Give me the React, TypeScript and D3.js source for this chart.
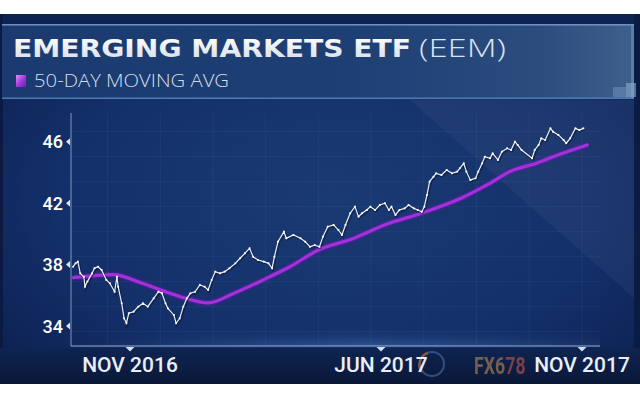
import React from "react";
import * as d3 from "d3";

const titleMain = "EMERGING MARKETS ETF";
const titleTicker = "(EEM)";
const legendLabel = "50-DAY MOVING AVG";
const watermark = "FX678";

const yTickValues = [34, 38, 42, 46];
const xTickDates = ["2016-11-01", "2017-06-01", "2017-11-01"];
const xTickLabels = ["NOV 2016", "JUN 2017", "NOV 2017"];

const priceDates = [
  "2016-09-14", "2016-09-16", "2016-09-18", "2016-09-20", "2016-09-23", "2016-09-24", "2016-09-26", "2016-09-30",
  "2016-10-02", "2016-10-05", "2016-10-08", "2016-10-12", "2016-10-15", "2016-10-19", "2016-10-21", "2016-10-22",
  "2016-10-25", "2016-10-27", "2016-10-29", "2016-10-31", "2016-11-04", "2016-11-08", "2016-11-12", "2016-11-16",
  "2016-11-21", "2016-11-25", "2016-11-28", "2016-12-01", "2016-12-03", "2016-12-08", "2016-12-10", "2016-12-13",
  "2016-12-16", "2016-12-19", "2016-12-22", "2016-12-26", "2016-12-30", "2017-01-03", "2017-01-06", "2017-01-09",
  "2017-01-12", "2017-01-16", "2017-01-20", "2017-01-24", "2017-01-29", "2017-02-02", "2017-02-06", "2017-02-10",
  "2017-02-13", "2017-02-17", "2017-02-22", "2017-02-26", "2017-03-01", "2017-03-03", "2017-03-06", "2017-03-11",
  "2017-03-13", "2017-03-19", "2017-03-25", "2017-03-29", "2017-04-02", "2017-04-06", "2017-04-10", "2017-04-13",
  "2017-04-17", "2017-04-22", "2017-04-26", "2017-04-29", "2017-05-02", "2017-05-06", "2017-05-10", "2017-05-13",
  "2017-05-16", "2017-05-20", "2017-05-23", "2017-05-27", "2017-05-31", "2017-06-04", "2017-06-07", "2017-06-09",
  "2017-06-12", "2017-06-15", "2017-06-19", "2017-06-22", "2017-06-26", "2017-06-29", "2017-07-02", "2017-07-04",
  "2017-07-06", "2017-07-08", "2017-07-11", "2017-07-13", "2017-07-17", "2017-07-21", "2017-07-25", "2017-07-29",
  "2017-07-31", "2017-08-03", "2017-08-05", "2017-08-08", "2017-08-12", "2017-08-14", "2017-08-17", "2017-08-19",
  "2017-08-23", "2017-08-25", "2017-08-29", "2017-09-01", "2017-09-05", "2017-09-08", "2017-09-11", "2017-09-13",
  "2017-09-16", "2017-09-24", "2017-09-26", "2017-09-29", "2017-10-01", "2017-10-04", "2017-10-08", "2017-10-10",
  "2017-10-14", "2017-10-18", "2017-10-20", "2017-10-23", "2017-10-27", "2017-10-30", "2017-11-02",
];
const priceValues = [
  37.86, 38.08, 38.19, 37.43, 37.21, 36.56, 36.89, 37.43,
  37.76, 37.86, 37.65, 37.0, 36.78, 36.23, 37.21, 36.56,
  35.48, 34.5, 34.18, 34.83, 34.93, 35.26, 35.48, 35.26,
  35.8, 36.23, 36.13, 35.48, 35.15, 34.72, 34.18, 34.5,
  35.26, 35.8, 36.13, 36.23, 36.67, 36.56, 36.35, 37.0,
  37.54, 37.43, 37.54, 37.76, 38.08, 38.41, 38.73, 39.06,
  38.51, 38.3, 38.19, 38.08, 37.76, 38.51, 39.49, 40.14,
  39.71, 39.93, 39.71, 39.49, 39.16, 39.27, 39.16, 39.82,
  40.47, 40.58, 40.25, 39.93, 40.58, 41.34, 41.77, 41.12,
  41.34, 41.55, 41.77, 41.55, 41.88, 41.99, 41.55, 41.77,
  41.23, 41.55, 41.66, 41.88, 41.66, 41.55, 41.44, 41.77,
  42.53, 43.4, 43.72, 43.94, 43.83, 44.16, 43.94, 44.05,
  44.27, 44.59, 44.05, 43.51, 43.62, 44.05, 44.59, 45.02,
  44.92, 45.24, 44.81, 45.35, 45.57, 45.46, 46.0, 45.79,
  45.46, 44.92, 45.46, 45.79, 46.22, 46.11, 46.87, 46.65,
  46.44, 46.11, 45.9, 46.22, 46.87, 46.76, 46.87,
];

const maDates = [
  "2016-09-14", "2016-10-18", "2016-11-09", "2016-12-02", "2016-12-19", "2017-01-06", "2017-01-27",
  "2017-02-22", "2017-03-16", "2017-04-10", "2017-05-08", "2017-06-05", "2017-07-03", "2017-08-03",
  "2017-08-21", "2017-09-07", "2017-09-28", "2017-10-15", "2017-11-05",
];
const maValues = [
  37.15, 37.34, 36.85, 36.2, 35.78, 35.5, 36.1,
  37.02, 37.86, 38.98, 39.68, 40.62, 41.38, 42.4,
  43.2, 44.05, 44.62, 45.18, 45.79,
];

const parse = d3.timeParse("%Y-%m-%d");

export default function App() {
  const W = 640;
  const H = 400;
  const plotLeft = 71;
  const plotRight = 600;
  const plotTop = 113;
  const plotBottom = 346;

  const x = d3
    .scaleTime()
    .domain(xTickDates.map((d) => parse(d) as Date))
    .range([130, 381, 582]);
  const y = d3.scaleLinear().domain([34, 46]).range([326, 141.7]);

  const price = priceDates.map((d, i) => ({ date: parse(d) as Date, value: priceValues[i] }));
  const ma = maDates.map((d, i) => ({ date: parse(d) as Date, value: maValues[i] }));

  const priceLine = d3
    .line<{ date: Date; value: number }>()
    .x((d) => x(d.date))
    .y((d) => y(d.value));
  const maLine = d3
    .line<{ date: Date; value: number }>()
    .x((d) => x(d.date))
    .y((d) => y(d.value))
    .curve(d3.curveMonotoneX);

  const gridX = d3.range(107.6, plotRight, 52.7);
  const gridY = d3.range(131.7, plotBottom, 25);

  return (
    <svg
      width={W}
      height={H}
      style={{ position: "absolute", left: 0, top: 0, display: "block", background: "#ffffff" }}
    >
      <defs>
        <radialGradient id="panelGrad" cx="0.52" cy="0.5" r="0.7">
          <stop offset="0" stopColor="#1a3a73" />
          <stop offset="0.6" stopColor="#14306a" />
          <stop offset="1" stopColor="#0c2050" />
        </radialGradient>
        <linearGradient id="titleGrad" x1="0" y1="0" x2="1" y2="0">
          <stop offset="0" stopColor="#1b3b70" />
          <stop offset="0.55" stopColor="#1d3f74" />
          <stop offset="0.85" stopColor="#2c4c7e" />
          <stop offset="1" stopColor="#3f5f8c" />
        </linearGradient>
        <linearGradient id="titleTextGrad" x1="0" y1="0" x2="0" y2="1">
          <stop offset="0" stopColor="#ffffff" />
          <stop offset="1" stopColor="#d5dce6" />
        </linearGradient>
        <linearGradient id="legendSq" x1="0" y1="0" x2="1" y2="1">
          <stop offset="0" stopColor="#e08cff" />
          <stop offset="0.5" stopColor="#a43ddc" />
          <stop offset="1" stopColor="#6a1ca6" />
        </linearGradient>
        <linearGradient id="wmGrad" x1="0" y1="0" x2="1" y2="0">
          <stop offset="0" stopColor="#9a7452" />
          <stop offset="0.6" stopColor="#9a7452" />
          <stop offset="0.6" stopColor="#a34a48" />
          <stop offset="1" stopColor="#a34a48" />
        </linearGradient>
        <linearGradient id="axisGlowH" x1="0" y1="0" x2="1" y2="0">
          <stop offset="0" stopColor="#5f9ad8" stopOpacity="0" />
          <stop offset="0.55" stopColor="#6aa6e0" stopOpacity="1" />
          <stop offset="1" stopColor="#6aa6e0" stopOpacity="0.3" />
        </linearGradient>
        <linearGradient id="axisGlowV" x1="0" y1="0" x2="0" y2="1">
          <stop offset="0" stopColor="#000" stopOpacity="0" />
          <stop offset="1" stopColor="#fff" stopOpacity="1" />
        </linearGradient>
        <mask id="glowMask">
          <rect x={71} y={326} width={529} height={20} fill="url(#axisGlowV)" />
        </mask>
        <linearGradient id="bottomBand" x1="0" y1="0" x2="0" y2="1">
          <stop offset="0" stopColor="#0f2452" />
          <stop offset="1" stopColor="#0a1838" />
        </linearGradient>
        <filter id="glow" x="-10%" y="-10%" width="120%" height="120%">
          <feGaussianBlur stdDeviation="1.2" />
        </filter>
      </defs>

      {/* panel */}
      <rect x={0} y={14} width={W} height={370} fill="url(#panelGrad)" />
      <rect x={0} y={14} width={W} height={11} fill="#0e2352" />
      {/* diagonal light band */}
      <polygon points="410,100 636,100 636,300" fill="#ffffff" opacity={0.04} />
      <rect x={0} y={14} width={3} height={370} fill="#0a1a40" />
      <rect x={634} y={14} width={6} height={370} fill="#0b1c44" />

      {/* bottom band */}
      <rect x={0} y={348} width={W} height={36} fill="url(#bottomBand)" />
      <rect x={71} y={326} width={529} height={20} fill="url(#axisGlowH)" mask="url(#glowMask)" opacity={0.3} />

      {/* title box */}
      <rect x={2} y={25} width={632} height={73} fill="url(#titleGrad)" />
      <rect x={2} y={24} width={632} height={1.5} fill="#7ea6d2" opacity={0.85} />
      <rect x={2} y={97.5} width={632} height={1.5} fill="#5d8cc0" opacity={0.8} />
      <rect x={631} y={25} width={3} height={73} fill="#7b9cc4" opacity={0.5} />
      <rect x={613} y={87} width={13} height={10} fill="#6f8fb8" opacity={0.55} />
      <rect x={626} y={83} width={10} height={14} fill="#8eabd0" opacity={0.6} />

      <text
        x={13}
        y={57}
        fontFamily="'DejaVu Sans', sans-serif"
        fontWeight={700}
        fontSize={24}
        fill="url(#titleTextGrad)"
        textLength={398}
        lengthAdjust="spacingAndGlyphs"
      >
        {titleMain}
      </text>
      <text
        x={419}
        y={57}
        fontFamily="'Open Sans', sans-serif"
        fontWeight={300}
        fontSize={25}
        fill="#dbe3ee"
        textLength={87}
        lengthAdjust="spacingAndGlyphs"
      >
        {titleTicker}
      </text>
      <rect x={16} y={75} width={10} height={12} fill="url(#legendSq)" />
      <text
        x={34}
        y={87}
        fontFamily="'Open Sans', sans-serif"
        fontWeight={300}
        fontSize={18}
        fill="#d6dfeb"
        textLength={195}
        lengthAdjust="spacingAndGlyphs"
      >
        {legendLabel}
      </text>

      {/* faint grid */}
      <g stroke="#8fb4e0" strokeOpacity={0.07} strokeWidth={1}>
        {gridY.map((gy, i) => (
          <line key={"gy" + i} x1={plotLeft} x2={plotRight} y1={gy} y2={gy} />
        ))}
        {gridX.map((gx, i) => (
          <line key={"gx" + i} x1={gx} x2={gx} y1={plotTop} y2={plotBottom} />
        ))}
      </g>

      {/* axes */}
      <line x1={plotLeft} x2={plotLeft} y1={plotTop} y2={plotBottom} stroke="#a9c4e6" strokeOpacity={0.7} strokeWidth={1} />
      <line x1={plotLeft} x2={plotRight} y1={plotBottom} y2={plotBottom} stroke="#b5d0ee" strokeOpacity={0.8} strokeWidth={1.2} />

      {yTickValues.map((v) => (
        <g key={"yt" + v} transform={`translate(0,${y(v)})`}>
          <path d="M66,0 L70,-3.5 L70,3.5 Z" fill="#dfe8f4" />
          <text
            x={63}
            y={6.5}
            textAnchor="end"
            fontFamily="Roboto, sans-serif"
            fontWeight={500}
            fontSize={18}
            fill="#ffffff"
          >
            {v}
          </text>
        </g>
      ))}

      {/* watermark */}
      <g opacity={0.75}>
        <circle cx={432} cy={364} r={12} fill="none" stroke="#3d5f95" strokeWidth={2} />
        <path d="M422,372 A12,12 0 0 1 428,353" fill="none" stroke="#b86a3a" strokeWidth={2.5} />
        <g transform="translate(474,374) scale(0.74,1)">
          <text
            x={0}
            y={0}
            fontFamily="Roboto, sans-serif"
            fontWeight={700}
            fontSize={24}
            fill="url(#wmGrad)"
          >
            {watermark}
          </text>
        </g>
      </g>

      {xTickDates.map((d, i) => {
        const px = x(parse(d) as Date);
        return (
          <g key={"xt" + i} transform={`translate(${px},0)`}>
            <path d="M-4.5,347 L4.5,347 L0,351.5 Z" fill="#cfe0f2" />
            <text
              x={0}
              y={372}
              textAnchor="middle"
              fontFamily="Roboto, sans-serif"
              fontWeight={500}
              fontSize={21}
              fill="#e9eff7"
            >
              {xTickLabels[i]}
            </text>
          </g>
        );
      })}

      {/* moving average */}
      <path d={maLine(ma) || ""} fill="none" stroke="#6c1aa8" strokeWidth={6} strokeOpacity={0.45} filter="url(#glow)" />
      <path d={maLine(ma) || ""} fill="none" stroke="#a52fdc" strokeWidth={3.2} strokeLinecap="round" />

      {/* price */}
      <path
        d={priceLine(price) || ""}
        fill="none"
        stroke="#07122c"
        strokeOpacity={0.45}
        strokeWidth={2.6}
        transform="translate(0.8,1)"
      />
      <path d={priceLine(price) || ""} fill="none" stroke="#eef3fa" strokeWidth={1.2} />
      {price.map((p, i) => (
        <rect
          key={"p" + i}
          x={x(p.date) - 0.9}
          y={y(p.value) - 0.9}
          width={1.8}
          height={1.8}
          fill="#ffffff"
        />
      ))}
    </svg>
  );
}
